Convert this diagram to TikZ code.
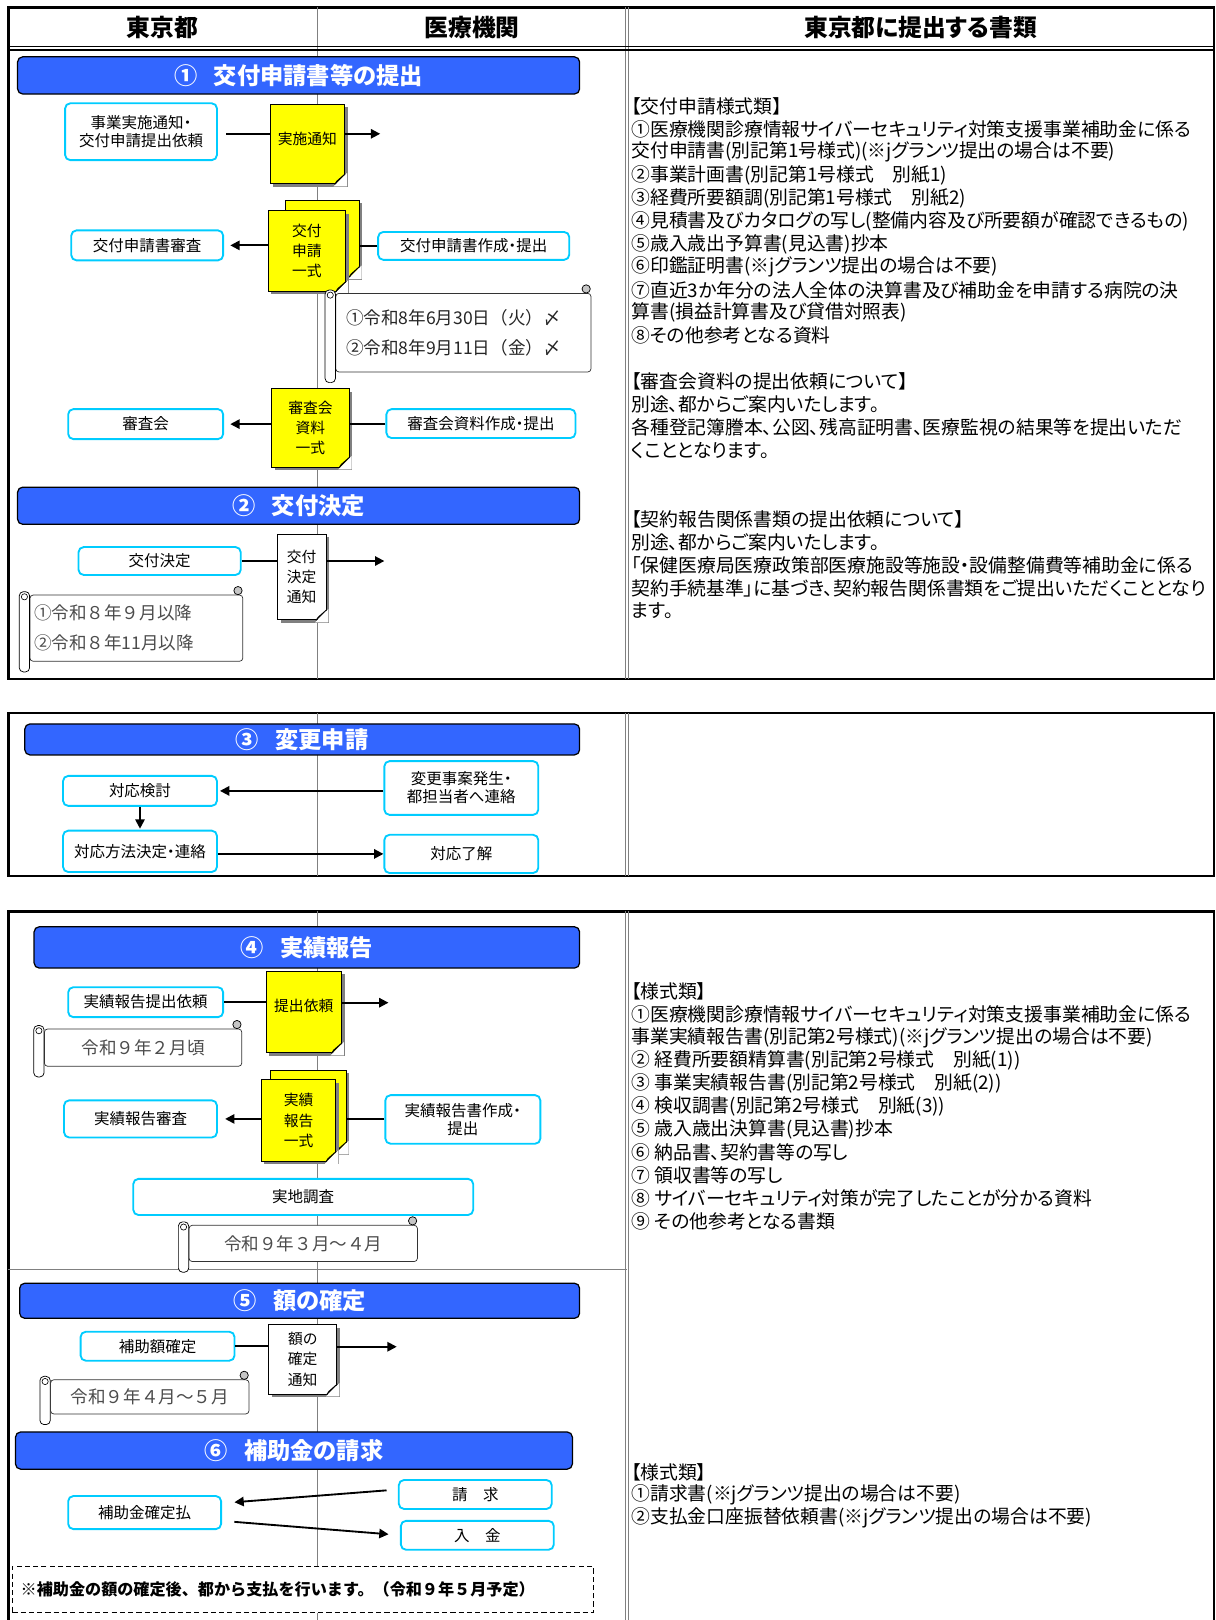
\documentclass[tikz,border=0pt]{standalone}
\usepackage{fontspec}
\setmainfont{Noto Sans CJK JP}[RawFeature=+palt]
\newfontfamily\plainjp{Noto Sans CJK JP}
\usetikzlibrary{arrows.meta,shadows,calc}

\definecolor{bannerblue}{HTML}{3366FF}
\definecolor{boxcyan}{HTML}{00CCFF}
\definecolor{docyellow}{HTML}{FFFF00}
\definecolor{rulegray}{HTML}{808080}

% coin replie d'un document
\newcommand\docfold[2]{%
  \fill[white] ([xshift=-11pt,yshift=-2pt]#1.south east) -- ([xshift=2pt,yshift=-2pt]#1.south east)
    -- ([xshift=2pt,yshift=11pt]#1.south east) -- cycle;
  \draw[line width=0.8pt, fill=#2, line join=round] ([xshift=-10pt]#1.south east)
    -- ([yshift=10pt]#1.south east) -- ([xshift=-8pt,yshift=3pt]#1.south east) -- cycle;}
% rouleaux d'un parchemin
\newcommand\scrollrolls[1]{%
  \draw[line width=0.7pt, fill=white, rounded corners=4pt] ([xshift=-10pt,yshift=3pt]#1.north west)
    rectangle ([yshift=-10pt]#1.south west);
  \draw[line width=0.6pt] ([xshift=-5pt,yshift=-2pt]#1.north west) circle (3pt);
  \draw[line width=0.7pt, fill=gray!45] ([xshift=-5pt,yshift=4pt]#1.north east) circle (4pt);}

\begin{document}
\begin{tikzpicture}[x=1pt,y=-1pt]
  %tikz%
  % Flux de la subvention, trois cadres
  %tikz%
  \tikzset{
    frame/.style={line width=2.5pt},
    sep/.style={rulegray, line width=1.2pt},
    head/.style={font=\bfseries\fontsize{23}{27}\selectfont},
    banner/.style={draw=black, line width=1.2pt, fill=bannerblue, rounded corners=5pt, text=white,
      font=\bfseries\fontsize{22.5}{25}\selectfont},
    stepbox/.style={draw=boxcyan, line width=1.8pt, rounded corners=5pt, fill=white, align=center,
      inner sep=2pt, font=\fontsize{15}{17.5}\selectfont},
    docnote/.style={draw=black, line width=0.8pt, fill=docyellow, align=center, inner sep=2pt,
      drop shadow={shadow xshift=3pt, shadow yshift=-3pt, fill=black!50, opacity=1},
      font=\fontsize{14.3}{19.5}\selectfont},
    docwhite/.style={docnote, fill=white},
    scrollbody/.style={draw=black!80, line width=0.7pt, fill=white, rounded corners=3pt,
      inner sep=5pt, text=black!70, font=\plainjp\fontsize{17}{20}\selectfont},
    listline/.style={anchor=west, inner sep=0pt, font=\fontsize{18.2}{21}\selectfont},
    flow/.style={-{Triangle[length=9pt,width=9pt]}, line width=1.8pt},
    link/.style={line width=1.8pt},
  }
  \useasboundingbox (0,0) rectangle (1176,1568);

  % cadres et colonnes
  \draw[frame] (8,7) rectangle (1175,657);
  \draw[frame] (8,690) rectangle (1175,848);
  \draw[frame] (8,882) rectangle (1175,1600);
  \foreach \ya/\yb in {7/657, 690/848, 882/1600}{
    \draw[sep] (307,\ya) -- (307,\yb);
    \draw[sep] (605.5,\ya) -- (605.5,\yb);
    \draw[sep] (608.5,\ya) -- (608.5,\yb);
  }
  \draw[line width=1.2pt] (8,45) -- (1175,45);
  \draw[line width=1.2pt] (8,48.5) -- (1175,48.5);
  \draw[sep] (8,1229) -- (607,1229);

  \node[head] (hdtokyo) at (157,27) {東京都};
  \node[head] (hdiryo) at (457,27) {医療機関};
  \node[head] (hdshorui) at (891,27) {東京都に提出する書類};

  % 1 : demande
  \node[banner, minimum width=544pt, minimum height=36pt] (ban1) at (289,73) {①\hspace{.7em}交付申請書等の提出};
  \node[stepbox, minimum width=147pt, minimum height=55pt] (tsuchi) at (136.5,127.5) {事業実施通知・\\交付申請提出依頼};
  \node[docnote, minimum width=72pt, minimum height=77pt, text depth=12pt] (jisshi) at (297.5,139.5) {実施通知};
  \docfold{jisshi}{docyellow!55!white}
  \coordinate (jisshiR) at (368,129.5);
  \draw[link, shorten <=8pt] (tsuchi.east |- jisshiR) -- (jisshi.west |- jisshiR);
  \draw[flow] (jisshi.east |- jisshiR) -- (jisshiR);

  \node[docnote, minimum width=71pt, minimum height=74pt] (kofuB) at (312,230.7) {};
  \docfold{kofuB}{docyellow!55!white}
  \node[docnote, minimum width=75pt, minimum height=78pt] (kofu) at (297,243) {交付\\申請\\一式};
  \docfold{kofu}{docyellow!55!white}
  \node[stepbox, minimum width=147pt, minimum height=29pt] (shinsa1) at (142.5,237.5) {交付申請書審査};
  \node[stepbox, minimum width=185pt, minimum height=27pt] (sakusei1) at (458.5,238) {交付申請書作成・提出};
  \draw[flow, shorten >=6pt] (kofu.west |- shinsa1) -- (shinsa1.east);
  \draw[link] (sakusei1.west) -- (sakusei1.west -| kofuB.east);

  \node[scrollbody, minimum width=247pt, minimum height=76pt, text width=227pt, align=left,
    inner xsep=10pt, font=\plainjp\fontsize{17}{29}\selectfont, text=black!85] (kigen1) at (448.5,322)
    {①令和8年6月30日（火）〆\\②令和8年9月11日（金）〆};
  \scrollrolls{kigen1}

  \node[docnote, minimum width=75pt, minimum height=76pt] (sdoc) at (300.5,414) {審査会\\資料\\一式};
  \docfold{sdoc}{docyellow!55!white}
  \node[stepbox, minimum width=150pt, minimum height=29pt] (shinsakai) at (141,410.5) {審査会};
  \node[stepbox, minimum width=183pt, minimum height=28pt] (ssakusei) at (465.5,410) {審査会資料作成・提出};
  \draw[flow, shorten >=6pt] (sdoc.west |- shinsakai) -- (shinsakai.east);
  \draw[link] (ssakusei.west) -- (ssakusei.west -| sdoc.east);

  % 2 : decision
  \node[banner, minimum width=544pt, minimum height=36pt] (ban2) at (289,489.5) {②\hspace{.7em}交付決定};
  \node[stepbox, minimum width=157pt, minimum height=27pt] (kettei) at (154.5,543) {交付決定};
  \node[docwhite, minimum width=47pt, minimum height=83pt] (kdoc) at (292,558.5) {交付\\決定\\通知};
  \docfold{kdoc}{white}
  \coordinate (ketteiR) at (372,543);
  \draw[link] (kettei.east) -- (kettei.east -| kdoc.west);
  \draw[flow] (kdoc.east |- ketteiR) -- (ketteiR);
  \node[scrollbody, minimum width=206pt, minimum height=64pt, text width=198pt, align=left, inner xsep=4pt,
    font=\plainjp\fontsize{17}{29}\selectfont] (kigen2) at (132,608)
    {①令和８年９月以降\\②令和８年11月以降};
  \scrollrolls{kigen2}

  % 3 : modification
  \node[banner, minimum width=537pt, minimum height=30pt] (ban3) at (292.5,715.7) {③\hspace{.7em}変更申請};
  \node[stepbox, minimum width=149pt, minimum height=29pt] (kento) at (135.5,765.5) {対応検討};
  \node[stepbox, minimum width=149pt, minimum height=52pt] (jian) at (446.5,762.7) {変更事案発生・\\都担当者へ連絡};
  \node[stepbox, minimum width=149pt, minimum height=40pt] (houhou) at (135.5,824) {対応方法決定・連絡};
  \node[stepbox, minimum width=149pt, minimum height=37pt] (ryokai) at (446.5,826.5) {対応了解};
  \draw[flow, shorten >=2pt] (jian.west |- kento) -- (kento.east);
  \draw[flow, shorten >=1pt] (kento.south) -- (houhou.north);
  \draw[flow] (houhou.east |- ryokai) -- (ryokai.west);

  % 4 : rapport
  \node[banner, minimum width=528pt, minimum height=40pt] (ban4) at (297,917) {④\hspace{.7em}実績報告};
  \node[stepbox, minimum width=150pt, minimum height=29pt] (irai) at (141,970) {実績報告提出依頼};
  \node[docnote, minimum width=73pt, minimum height=79pt, text depth=12pt] (teishutsu) at (294,979.5) {提出依頼};
  \docfold{teishutsu}{docyellow!55!white}
  \coordinate (iraiR) at (376,970.5);
  \draw[link] (irai.east) -- (irai.east -| teishutsu.west);
  \draw[flow] (teishutsu.east |- iraiR) -- (iraiR);
  \node[scrollbody, minimum width=191pt, minimum height=36pt] (kigen3) at (138.5,1014) {令和９年２月頃};
  \scrollrolls{kigen3}

  \node[docnote, minimum width=73pt, minimum height=79pt] (jdocB) at (298.5,1075.3) {};
  \docfold{jdocB}{docyellow!55!white}
  \node[docnote, minimum width=72pt, minimum height=79pt] (jdoc) at (289,1084.5) {実績\\報告\\一式};
  \docfold{jdoc}{docyellow!55!white}
  \node[stepbox, minimum width=148pt, minimum height=36pt] (jshinsa) at (136,1083) {実績報告審査};
  \node[stepbox, minimum width=150pt, minimum height=47pt] (jsakusei) at (448,1083.5) {実績報告書作成・\\提出};
  \draw[flow, shorten >=7pt] (jdoc.west |- jshinsa) -- (jshinsa.east);
  \draw[link] (jsakusei.west |- jshinsa) -- (jdocB.east |- jshinsa);
  \node[stepbox, minimum width=329pt, minimum height=35pt] (chosa) at (293.5,1158.5) {実地調査};
  \node[scrollbody, minimum width=221pt, minimum height=35pt] (kigen4) at (293.5,1203.5) {令和９年３月～４月};
  \scrollrolls{kigen4}

  % 5 : montant
  \node[banner, minimum width=542pt, minimum height=34pt] (ban5) at (290,1259) {⑤\hspace{.7em}額の確定};
  \node[stepbox, minimum width=149pt, minimum height=28pt] (kakutei) at (152.5,1303) {補助額確定};
  \node[docwhite, minimum width=66pt, minimum height=67pt] (gdoc) at (293,1315.7) {額の\\確定\\通知};
  \docfold{gdoc}{white}
  \coordinate (kakuteiR) at (384,1303.5);
  \draw[link] (kakutei.east) -- (kakutei.east -| gdoc.west);
  \draw[flow] (gdoc.east |- kakuteiR) -- (kakuteiR);
  \node[scrollbody, minimum width=192pt, minimum height=33pt] (kigen5) at (145,1352) {令和９年４月～５月};
  \scrollrolls{kigen5}

  % 6 : paiement
  \node[banner, minimum width=539pt, minimum height=36pt] (ban6) at (284.5,1404) {⑥\hspace{.7em}補助金の請求};
  \node[stepbox, minimum width=148pt, minimum height=28pt] (seikyu) at (460,1446.5) {請\hspace{1em}求};
  \node[stepbox, minimum width=148pt, minimum height=28pt] (nyukin) at (462,1486) {入\hspace{1em}金};
  \node[stepbox, minimum width=148pt, minimum height=32pt] (harai) at (140,1464) {補助金確定払};
  \draw[flow] ([xshift=-11pt,yshift=4pt]seikyu.west) -- ([xshift=12pt,yshift=10pt]harai.east);
  \draw[flow] ([xshift=12pt,yshift=-9pt]harai.east) -- ([xshift=-11pt,yshift=1pt]nyukin.west);
  \node[draw, dash pattern=on 5pt off 3pt, line width=0.9pt, fill=white, minimum height=45pt, text width=546pt,
    inner xsep=8pt, align=left, font=\plainjp\bfseries\fontsize{15.6}{18}\selectfont] (chui) at (293,1538.5)
    {※補助金の額の確定後、都から支払を行います。（令和９年５月予定）};

  % colonne des pieces
  \foreach \t [count=\i from 0] in {【交付申請様式類】,
    ①医療機関診療情報サイバーセキュリティ対策支援事業補助金に係る,
    交付申請書(別記第1号様式)(※jグランツ提出の場合は不要),
    ②事業計画書(別記第1号様式　別紙1),
    ③経費所要額調(別記第1号様式　別紙2),
    ④見積書及びカタログの写し(整備内容及び所要額が確認できるもの),
    ⑤歳入歳出予算書(見込書)抄本,
    ⑥印鑑証明書(※jグランツ提出の場合は不要),
    ⑦直近3か年分の法人全体の決算書及び補助金を申請する病院の決,
    算書(損益計算書及び貸借対照表),
    ⑧その他参考となる資料}
    \node[listline] (ka\i) at (611,103+22.2*\i) {\t};
  \foreach \t [count=\i from 0] in {【審査会資料の提出依頼について】,
    別途、都からご案内いたします。,
    各種登記簿謄本、公図、残高証明書、医療監視の結果等を提出いただ,
    くこととなります。}
    \node[listline] (sa\i) at (611,369.5+22.2*\i) {\t};
  \foreach \t [count=\i from 0] in {【契約報告関係書類の提出依頼について】,
    別途、都からご案内いたします。,
    「保健医療局医療政策部医療施設等施設・設備整備費等補助金に係る,
    契約手続基準」に基づき、契約報告関係書類をご提出いただくこととなり,
    ます。}
    \node[listline] (kb\i) at (611,502.5+22.2*\i) {\t};
  \foreach \t [count=\i from 0] in {【様式類】,
    ①医療機関診療情報サイバーセキュリティ対策支援事業補助金に係る,
    事業実績報告書(別記第2号様式)(※jグランツ提出の場合は不要),
    ② 経費所要額精算書(別記第2号様式　別紙(1)),
    ③ 事業実績報告書(別記第2号様式　別紙(2)),
    ④ 検収調書(別記第2号様式　別紙(3)),
    ⑤ 歳入歳出決算書(見込書)抄本,
    ⑥ 納品書、契約書等の写し,
    ⑦ 領収書等の写し,
    ⑧ サイバーセキュリティ対策が完了したことが分かる資料,
    ⑨ その他参考となる書類}
    \node[listline] (jr\i) at (611,960+22.2*\i) {\t};
  \foreach \t [count=\i from 0] in {【様式類】,
    ①請求書(※jグランツ提出の場合は不要),
    ②支払金口座振替依頼書(※jグランツ提出の場合は不要)}
    \node[listline] (sk\i) at (611,1425+22.2*\i) {\t};
\end{tikzpicture}
\end{document}
